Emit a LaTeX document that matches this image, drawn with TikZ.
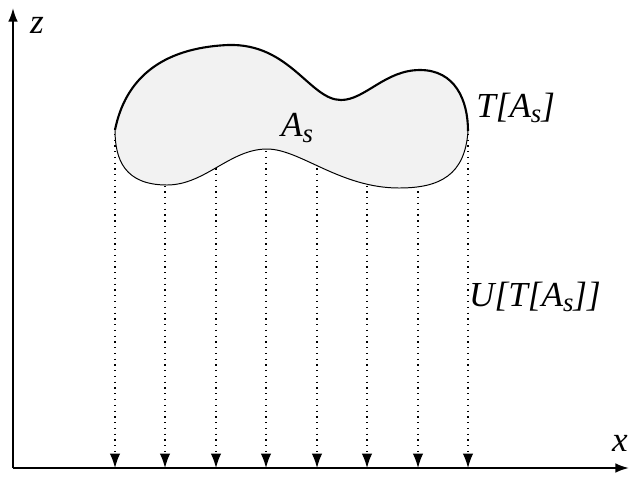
\documentclass[tikz,border=0pt]{standalone}
\usepackage{fontspec}
\setmainfont{Liberation Serif}
\usepackage{tikz}
\usetikzlibrary{arrows.meta}
\definecolor{projInk}{HTML}{000000}
\definecolor{projFill}{HTML}{F2F2F2}
\newcommand{\projsub}[1]{\raisebox{-0.35ex}{\fontsize{19}{21}\selectfont #1}}
\tikzset{
  every picture/.style={font=\fontsize{25}{29}\selectfont\itshape, text=projInk},
  proj axis/.style={draw=projInk, line width=1.4pt,
    -{Latex[length=3.4mm,width=2.4mm]}},
  proj arrow/.style={draw=projInk, line width=0.9pt,
    dash pattern=on 0.9pt off 3.2pt,
    -{Latex[length=3.6mm,width=2.6mm]}},
  proj upper/.style={draw=projInk, line width=1.5pt},
  proj lower/.style={draw=projInk, line width=0.7pt},
  proj label/.style={inner sep=0pt}
}
\begin{document}
\begin{tikzpicture}[x=0.025cm,y=-0.025cm]
  \useasboundingbox (0,0) rectangle (630,476);
  % axes
  \coordinate (origin) at (13,468);
  \coordinate (ztip) at (13,8);
  \coordinate (xtip) at (629,468);
  \draw[proj axis] (origin) -- (ztip);
  \draw[proj axis] (origin) -- (xtip);
  \node[proj label] (zlab) at (37,25) {z};
  \node[proj label] (xlab) at (620,443) {x};
  % projection rays
  \foreach \x [count=\i] in {115,165,216,266,317,367,418,468}{
    \coordinate (top\i) at (\x,128);
    \coordinate (foot\i) at (\x,468);
    \draw[proj arrow] (top\i) -- (foot\i);
  }
  % the set A_s
  \coordinate (left) at (115,130);
  \coordinate (right) at (468,131);
  \fill[projFill] (left) .. controls (125,80) and (160,48) .. (228,45)
    .. controls (290,43) and (310,100) .. (341,100)
    .. controls (365,100) and (385,70) .. (420,70)
    .. controls (455,70) and (468,100) .. (right)
    .. controls (465,175) and (440,188) .. (399,188)
    .. controls (340,188) and (300,149) .. (267,149)
    .. controls (230,149) and (205,185) .. (167,185)
    .. controls (125,185) and (115,160) .. (left) -- cycle;
  \draw[proj upper] (left) .. controls (125,80) and (160,48) .. (228,45)
    .. controls (290,43) and (310,100) .. (341,100)
    .. controls (365,100) and (385,70) .. (420,70)
    .. controls (455,70) and (468,100) .. (right);
  \draw[proj lower] (right) .. controls (465,175) and (440,188) .. (399,188)
    .. controls (340,188) and (300,149) .. (267,149)
    .. controls (230,149) and (205,185) .. (167,185)
    .. controls (125,185) and (115,160) .. (left);
  \node[proj label] (setlab) at (297,128) {A\projsub{s}};
  \node[proj label, anchor=west] (imglab) at (476,108) {T[A\projsub{s}]};
  \node[proj label] (projlab) at (535,297) {U[T[A\projsub{s}]]};
\end{tikzpicture}
\end{document}
